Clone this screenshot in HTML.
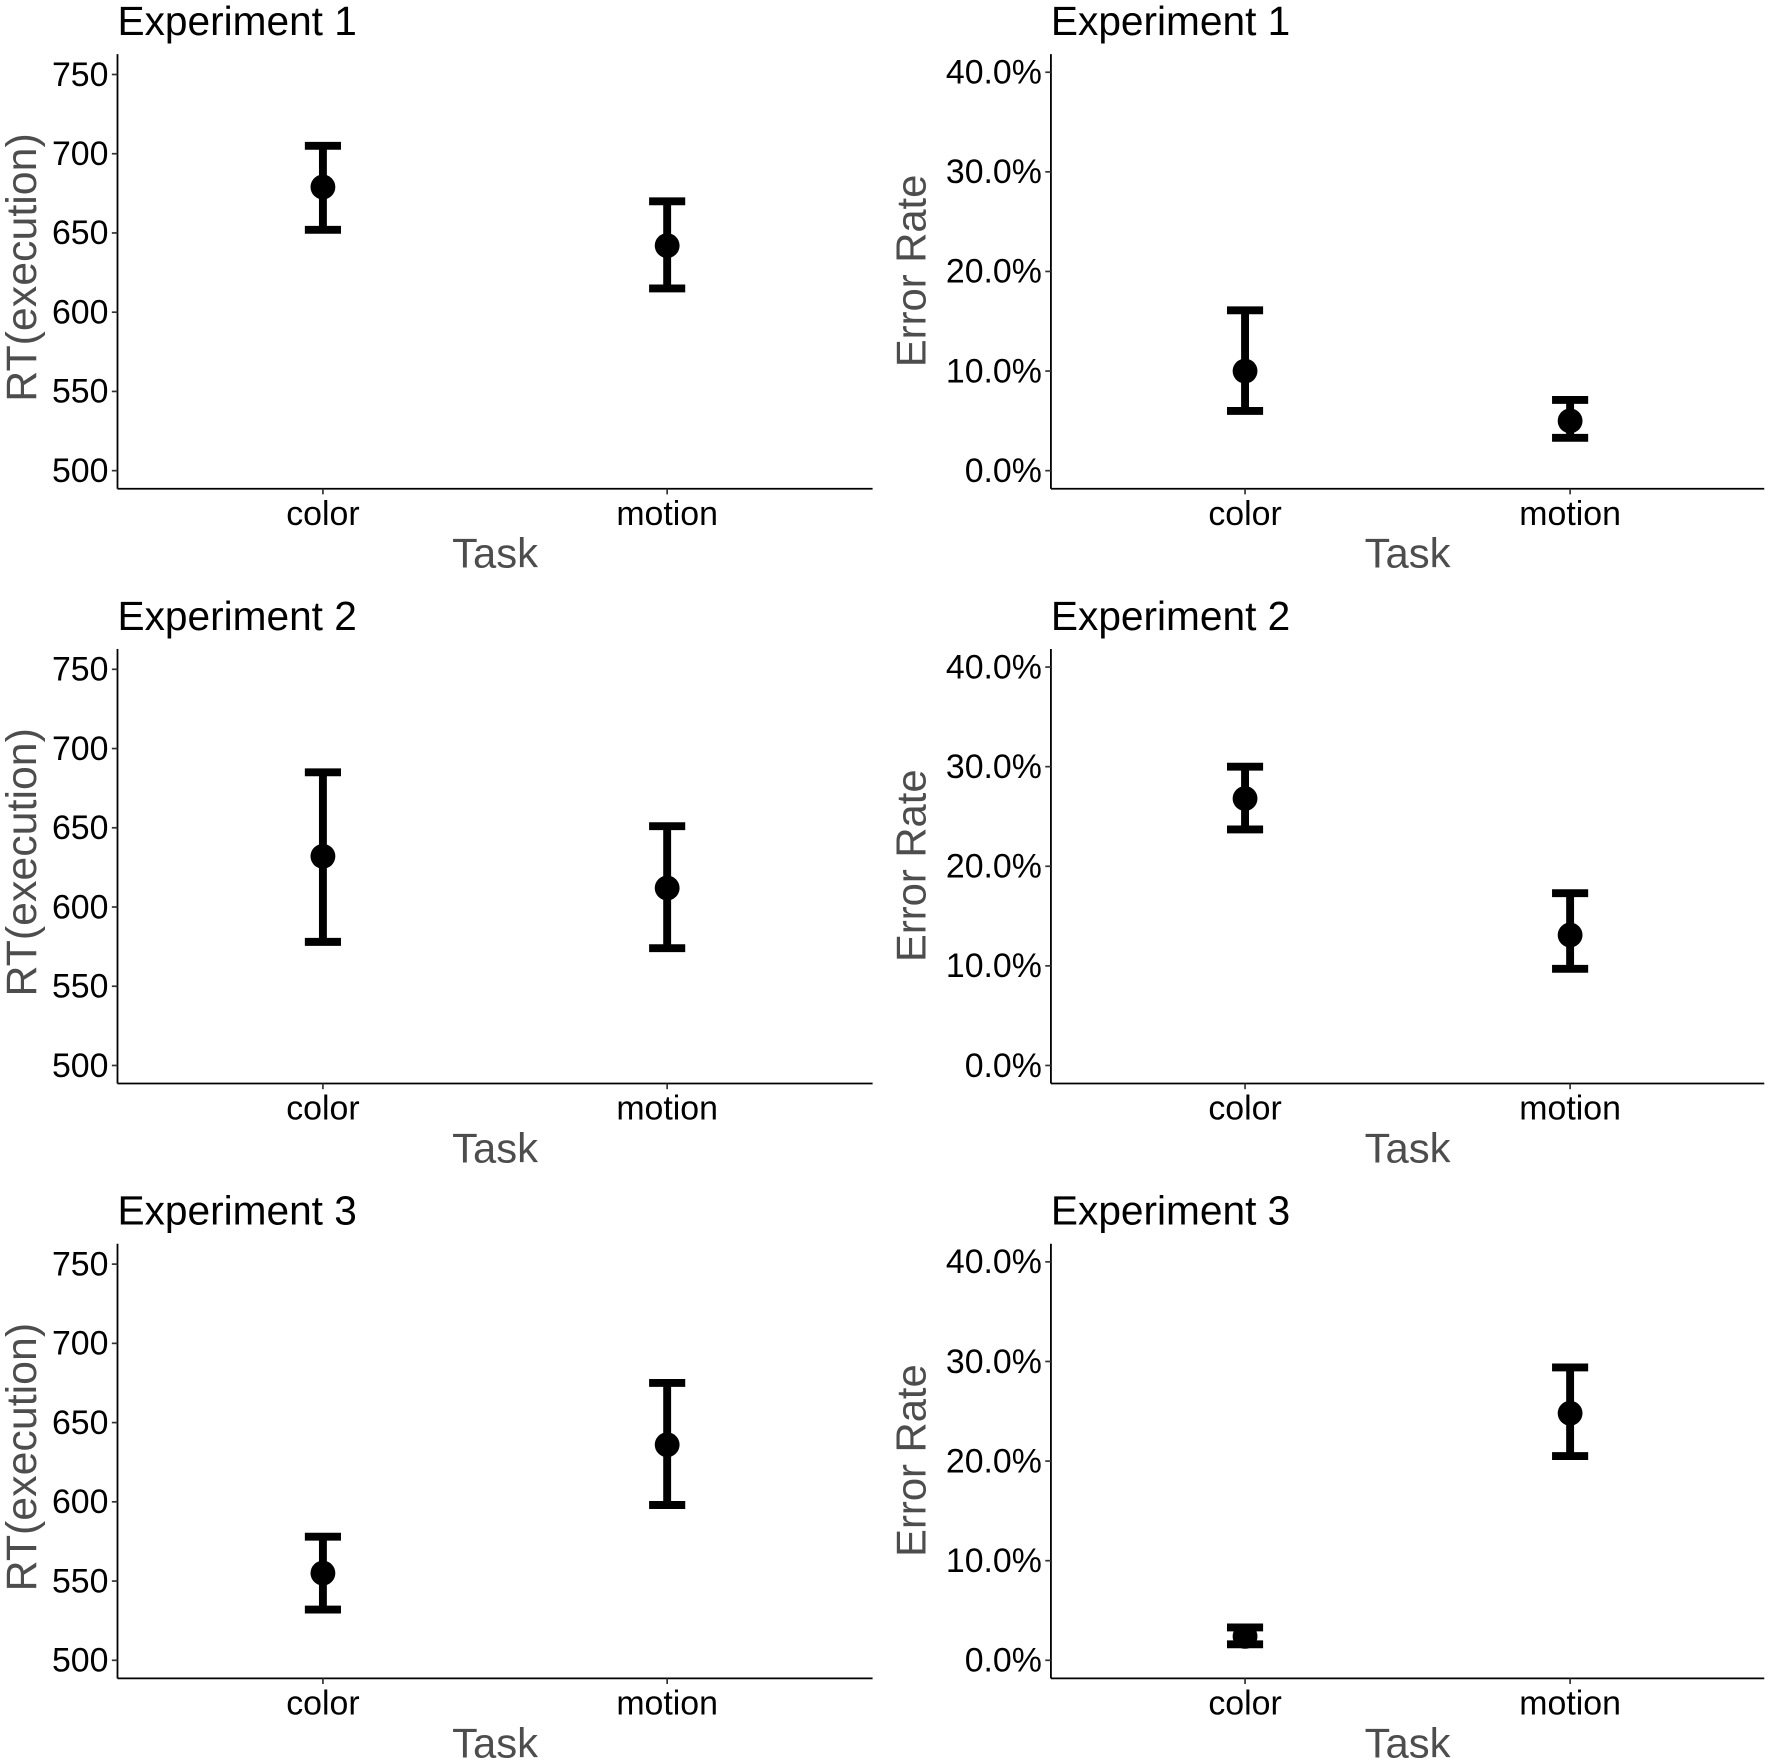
<!DOCTYPE html>
<html><head><meta charset="utf-8"><style>
html,body{margin:0;padding:0;background:#fff}
svg{display:block}
text{font-family:"Liberation Sans",sans-serif}
</style></head><body>
<svg id="fig" width="1770" height="1763" viewBox="0 0 1568 1562" xmlns="http://www.w3.org/2000/svg"></svg>
<script>
const categories = ["color","motion"];
const rtTicks = [500,550,600,650,700,750];
const erTicks = [0,10,20,30,40];
const erTickLabels = ["0.0%","10.0%","20.0%","30.0%","40.0%"];
const experiments = ["Experiment 1","Experiment 2","Experiment 3"];
const rtMean = [[679,642],[632,612],[555,636]];
const rtLow  = [[652,615],[578,574],[532,598]];
const rtHigh = [[705,670],[685,651],[578,675]];
const erMean = [[10,5],[26.8,13.1],[2.4,24.8]];
const erLow  = [[6,3.3],[23.7,9.7],[1.6,20.5]];
const erHigh = [[16.1,7.1],[30,17.3],[3.3,29.4]];

const NS="http://www.w3.org/2000/svg";
const svg=document.getElementById('fig');
function mk(tag,attrs,parent){const e=document.createElementNS(NS,tag);for(const k in attrs)e.setAttribute(k,attrs[k]);(parent||svg).appendChild(e);return e;}

function panel(row,isRT){
  const off=row*527;
  const L=isRT?104:931, R=isRT?773:1563;
  const top=48+off, bottom=433+off;
  const catX=isRT?[286,591]:[1103,1391];
  const y=isRT? v=>417+off-(v-500)*(351/250) : v=>417+off-v*(353/40);
  const g=mk('g',{});
  
  
  const t=mk('text',{x:L,y:31+off,'font-size':36,fill:'#000'},g);
  t.textContent=experiments[row];
  
  
  const ya=mk('line',{x1:L,y1:top,x2:L,y2:bottom,stroke:'#000','stroke-width':1.6},g);
  
  
  const xa=mk('line',{x1:L,y1:bottom,x2:R,y2:bottom,stroke:'#000','stroke-width':1.6},g);
  
  
  const ticks=isRT?rtTicks:erTicks;
  ticks.forEach((v,i)=>{
    const yy=y(v);
    mk('line',{x1:L-5,y1:yy,x2:L,y2:yy,stroke:'#333','stroke-width':1.5},g);
    const tl=mk('text',{x:L-8,y:yy+10,'font-size':30,'text-anchor':'end',fill:'#000'},g);
    tl.textContent=isRT?String(v):erTickLabels[i];
    
    
  });
  categories.forEach((c,i)=>{
    mk('line',{x1:catX[i],y1:bottom,x2:catX[i],y2:bottom+5,stroke:'#333','stroke-width':1.5},g);
    const tl=mk('text',{x:catX[i],y:bottom+32,'font-size':30,'text-anchor':'middle',fill:'#000'},g);
    tl.textContent=c;
    
    
    const m=isRT?rtMean[row][i]:erMean[row][i];
    const lo=isRT?rtLow[row][i]:erLow[row][i];
    const hi=isRT?rtHigh[row][i]:erHigh[row][i];
    const eb=mk('g',{},g);
    
    
    mk('line',{x1:catX[i],y1:y(hi),x2:catX[i],y2:y(lo),stroke:'#000','stroke-width':7},eb);
    mk('line',{x1:catX[i]-16,y1:y(hi),x2:catX[i]+16,y2:y(hi),stroke:'#000','stroke-width':7},eb);
    mk('line',{x1:catX[i]-16,y1:y(lo),x2:catX[i]+16,y2:y(lo),stroke:'#000','stroke-width':7},eb);
    const p=mk('circle',{cx:catX[i],cy:y(m),r:11,fill:'#000'},g);
    
    
  });
  const xt=mk('text',{x:(L+R)/2,y:503+off,'font-size':37,'text-anchor':'middle',fill:'#4d4d4d'},g);
  xt.textContent='Task';
  
  
  const ax=isRT?32:820, ay=isRT?237+off:240+off;
  const yt=mk('text',{x:ax,y:ay,'font-size':isRT?38:37,'text-anchor':'middle',fill:'#4d4d4d',transform:`rotate(-90 ${ax} ${ay})`},g);
  yt.textContent=isRT?'RT(execution)':'Error Rate';
  
  
}
for(let r=0;r<3;r++){panel(r,true);panel(r,false);}
</script>
</body></html>
